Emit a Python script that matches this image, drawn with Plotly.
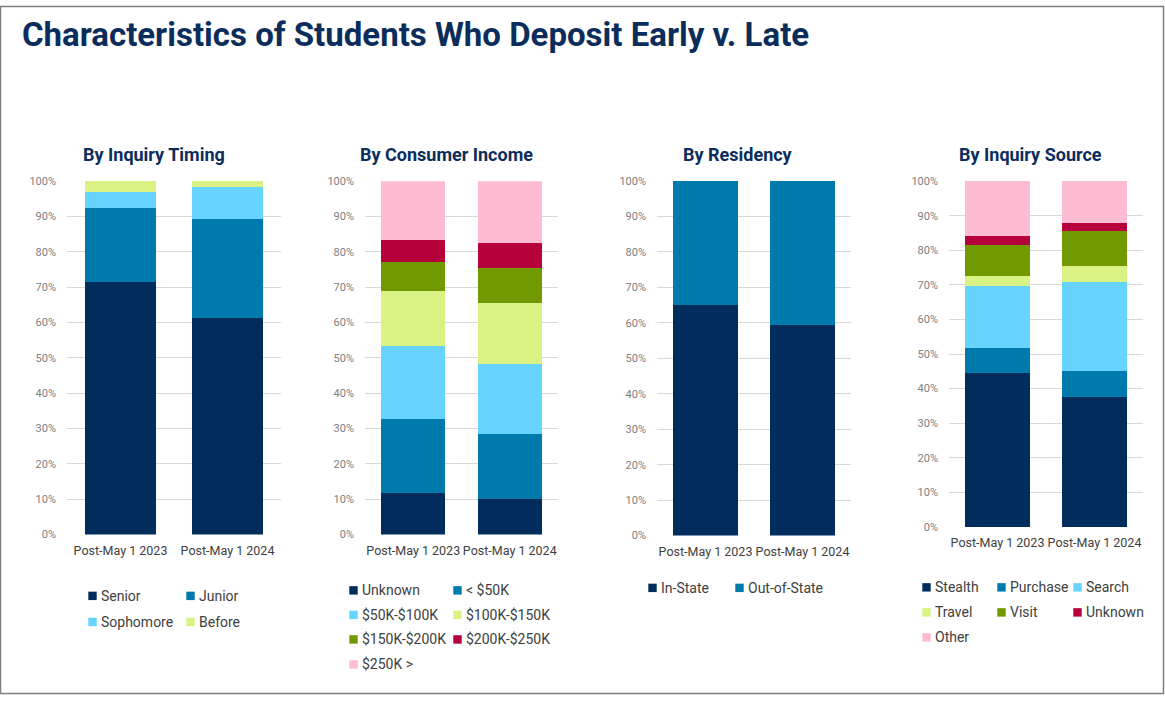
import plotly.graph_objects as go

W, H = 1165, 701

# ---------------------------------------------------------------
# Data (percent of deposits)
# ---------------------------------------------------------------
categories = ["Post-May 1 2023", "Post-May 1 2024"]

timing_labels = ["Senior", "Junior", "Sophomore", "Before"]
timing_senior = [71.4, 61.3]
timing_junior = [21.0, 28.0]
timing_sophomore = [4.5, 9.1]
timing_before = [3.1, 1.6]

income_labels = ["Unknown", "< $50K", "$50K-$100K", "$100K-$150K",
                 "$150K-$200K", "$200K-$250K", "$250K >"]
income_unknown = [11.9, 10.2]
income_lt50 = [20.7, 18.2]
income_50_100 = [20.8, 19.9]
income_100_150 = [15.6, 17.3]
income_150_200 = [8.2, 9.9]
income_200_250 = [6.2, 7.1]
income_250_plus = [16.6, 17.4]

residency_labels = ["In-State", "Out-of-State"]
residency_in = [65.0, 59.4]
residency_out = [35.0, 40.6]

source_labels = ["Stealth", "Purchase", "Search", "Travel", "Visit",
                 "Unknown", "Other"]
source_stealth = [44.5, 37.6]
source_purchase = [7.3, 7.5]
source_search = [17.9, 25.8]
source_travel = [2.9, 4.6]
source_visit = [9.0, 10.1]
source_unknown = [2.6, 2.3]
source_other = [15.8, 12.1]

palette = ["#002D5C", "#0079AD", "#66D4FF", "#D9F283",
           "#729A00", "#B5003B", "#FFBBD2"]

NAVY = "#0B2D5B"


def px_x(x):
    return x / W


def px_y(y):
    # the captured page comes back a little squeezed vertically
    # (roughly y_img = 6.5 + 0.98 * y_fig), so place things accordingly
    return 1 - ((y - 6.5) / 0.98) / H


# -----------------------------
# Panel geometry (pixels)
# -----------------------------
panels = [
    dict(title="By Inquiry Timing", labels=timing_labels,
         values=[timing_senior, timing_junior, timing_sophomore, timing_before],
         x0=67, x1=281, top=181.3, bottom=534.3, title_x=154,
         text_x=[99, 197], rows=[595.5, 621.5]),
    dict(title="By Consumer Income", labels=income_labels,
         values=[income_unknown, income_lt50, income_50_100, income_100_150,
                 income_150_200, income_200_250, income_250_plus],
         x0=365, x1=558, top=181.5, bottom=534.3, title_x=446,
         text_x=[360, 464], rows=[590, 614.5, 639, 664]),
    dict(title="By Residency", labels=residency_labels,
         values=[residency_in, residency_out],
         x0=657, x1=851, top=181.3, bottom=535.3, title_x=738,
         text_x=[659, 746], rows=[587.5]),
    dict(title="By Inquiry Source", labels=source_labels,
         values=[source_stealth, source_purchase, source_search, source_travel,
                 source_visit, source_unknown, source_other],
         x0=949, x1=1143, top=181.3, bottom=526.7, title_x=1030,
         text_x=[933, 1008, 1084], rows=[587, 612, 637]),
]

fig = go.Figure()
layout = {}
annotations = []
shapes = []

for p_idx, panel in enumerate(panels):
    n = p_idx + 1
    xname = "x" if n == 1 else f"x{n}"
    yname = "y" if n == 1 else f"y{n}"
    ncols = len(panel["text_x"])

    for i, (label, vals) in enumerate(zip(panel["labels"], panel["values"])):
        fig.add_trace(
            go.Bar(
                x=categories,
                y=vals,
                name=label,
                xaxis=xname,
                yaxis=yname,
                marker=dict(color=palette[i], line=dict(width=0)),
                showlegend=False,
                hovertemplate=label + ": %{y:.1f}%<extra></extra>",
            )
        )

        # legend entry: colour swatch + label on the reference grid
        tx = panel["text_x"][i % ncols]
        ty = panel["rows"][i // ncols]
        shapes.append(dict(
            type="rect", xref="paper", yref="paper",
            x0=px_x(tx - 10.7), x1=px_x(tx - 2.3),
            y0=px_y(ty + 4.2), y1=px_y(ty - 4.2),
            line=dict(width=0), fillcolor=palette[i],
        ))
        annotations.append(dict(
            text=label,
            x=px_x(tx), y=px_y(ty),
            xref="paper", yref="paper",
            xanchor="left", yanchor="middle",
            showarrow=False,
            font=dict(family="Roboto", size=14, color="#404040"),
        ))

    axis_key = "xaxis" if n == 1 else f"xaxis{n}"
    yaxis_key = "yaxis" if n == 1 else f"yaxis{n}"
    layout[axis_key] = dict(
        domain=[px_x(panel["x0"]), px_x(panel["x1"])],
        anchor=yname,
        type="category",
        showgrid=False,
        showline=False,
        zeroline=False,
        ticks="",
        tickangle=0,
        ticklabelstandoff=7,
        tickfont=dict(family="Roboto", size=12.5, color="#404040"),
        fixedrange=True,
    )
    layout[yaxis_key] = dict(
        domain=[px_y(panel["bottom"]), px_y(panel["top"])],
        anchor=xname,
        range=[0, 100],
        dtick=10,
        ticksuffix="%",
        showgrid=True,
        gridcolor="#D9D9D9",
        gridwidth=1,
        showline=False,
        zeroline=False,
        ticks="",
        ticklabelstandoff=10,
        tickfont=dict(family="Roboto", size=11, color="#808080"),
        fixedrange=True,
    )

    annotations.append(dict(
        text=panel["title"],
        x=px_x(panel["title_x"]), y=px_y(155),
        xref="paper", yref="paper",
        xanchor="center", yanchor="middle",
        showarrow=False,
        font=dict(family="Roboto", size=18, color=NAVY, weight=700),
    ))

annotations.append(dict(
    text="Characteristics of Students Who Deposit Early v. Late",
    x=px_x(20), y=px_y(35),
    xref="paper", yref="paper",
    xanchor="left", yanchor="middle",
    showarrow=False,
    font=dict(family="Roboto", size=33, color=NAVY, weight=700),
))

# outer frame along the page edges
shapes.append(dict(
    type="rect", xref="paper", yref="paper",
    x0=px_x(0.5), x1=px_x(1163.5), y0=0.5 / H, y1=1 - 0.5 / H,
    line=dict(color="#7F7F7F", width=1.5),
    fillcolor="rgba(0,0,0,0)",
))

fig.update_layout(
    **layout,
    annotations=annotations,
    shapes=shapes,
    showlegend=False,
    barmode="stack",
    bargap=0.335,
    width=W,
    height=H,
    margin=dict(l=0, r=0, t=0, b=0),
    paper_bgcolor="white",
    plot_bgcolor="white",
    font=dict(family="Roboto", color="#404040"),
)

fig.write_html(
    "out.html",
    config={"displayModeBar": False},
    post_script=(
        "var gd = document.getElementById('{plot_id}');"
        "gd.style.position = 'fixed'; gd.style.left = '0px'; gd.style.top = '0px';"
        "document.body.style.margin = '0'; document.body.style.overflow = 'hidden';"
    ),
)
